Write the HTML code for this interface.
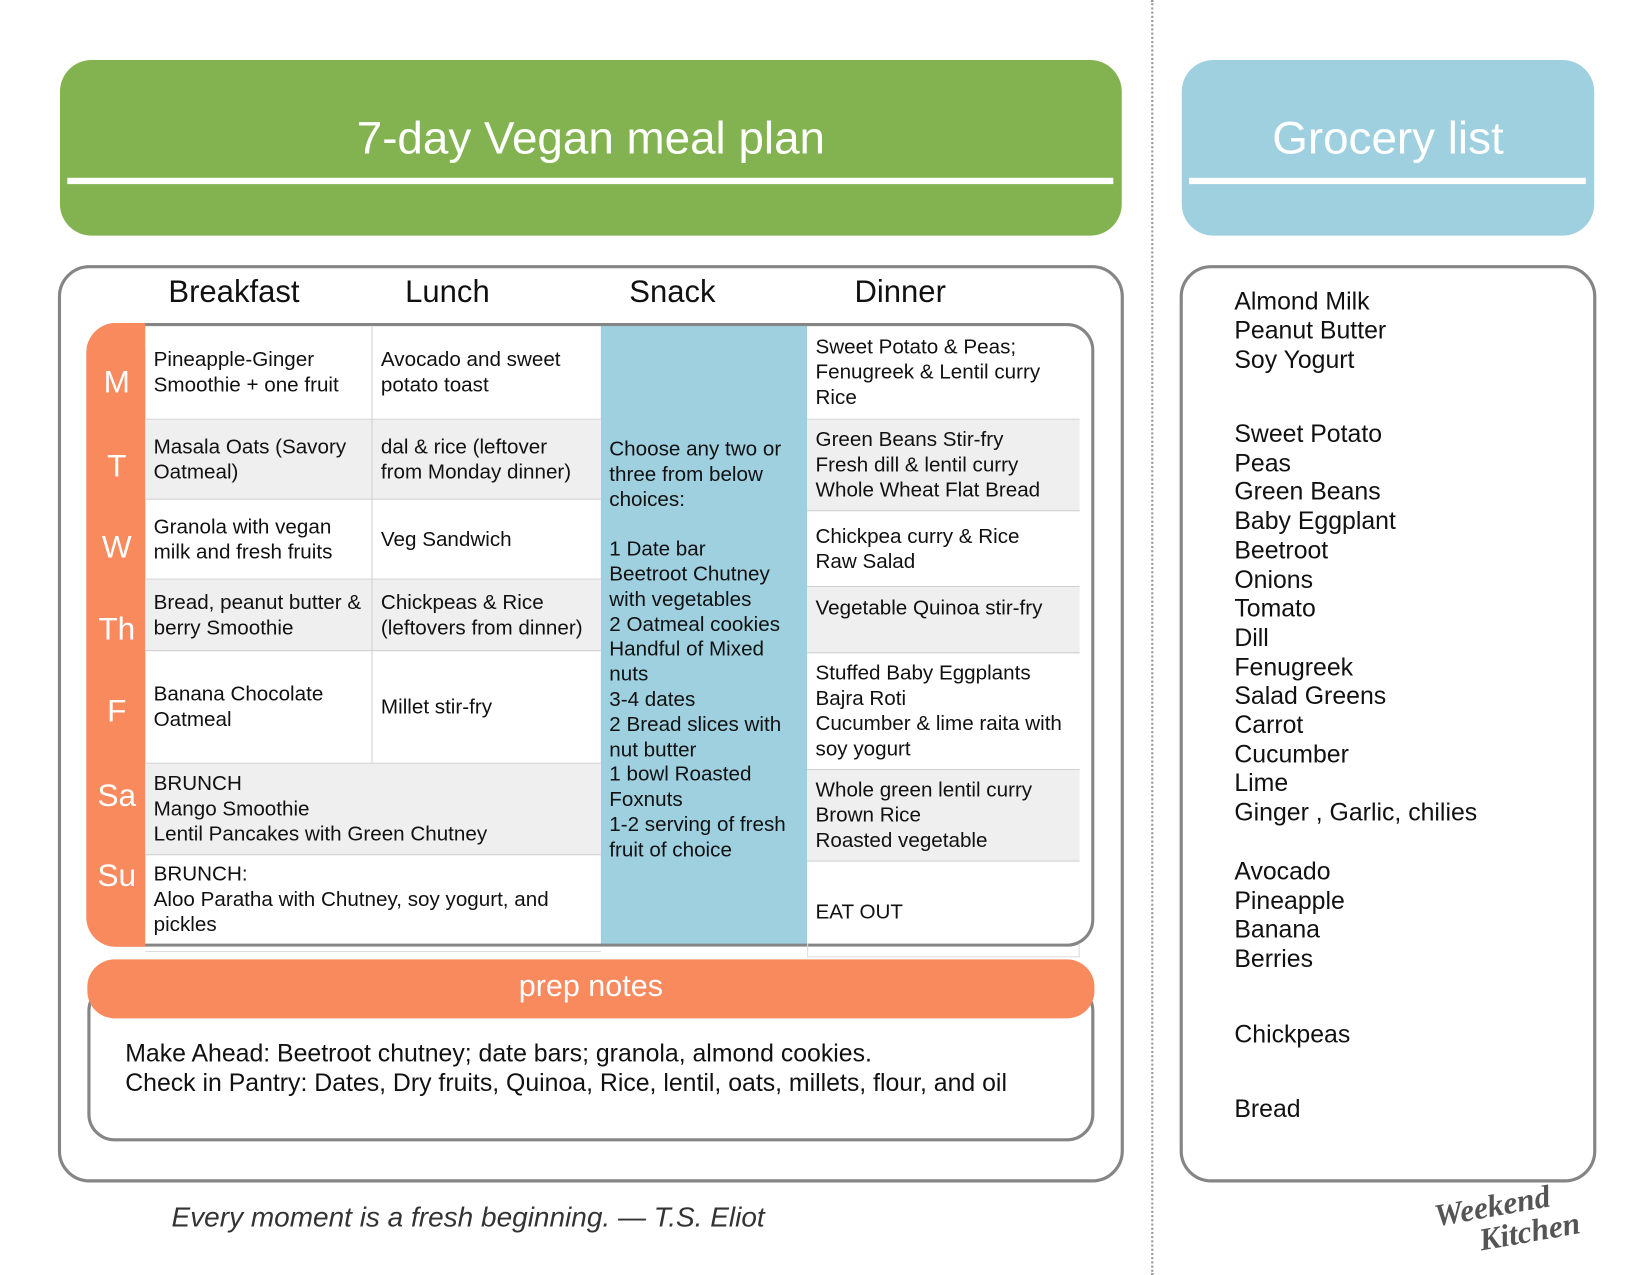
<!DOCTYPE html>
<html><head><meta charset="utf-8"><style>
html,body{margin:0;padding:0;background:#fff;width:1650px;height:1275px;overflow:hidden}
#w{position:absolute;left:0;top:0;width:1568px;height:1212px;transform-origin:0 0;transform:scale(1.0523,1.052);font-family:"Liberation Sans",Arial,sans-serif;color:#111}
.a{position:absolute}
.hdr{border-radius:30px;color:#fff;font-size:43.5px;text-align:center}
.line{position:absolute;height:6px;background:#fff}
.box{position:absolute;border:3px solid #858585;border-radius:30px;box-sizing:border-box}
.col{position:absolute;top:264px;font-size:29.5px;line-height:28px}
.c{position:absolute;font-size:19.6px;line-height:24px;box-sizing:border-box;padding-left:8px;display:flex;align-items:center;border-bottom:1px solid #d0d0d0;white-space:nowrap}
.g{background:#efefef}
.br{border-right:1px solid #d0d0d0}
.d{position:absolute;left:84px;width:54px;text-align:center;color:#fff;font-size:30px}
.gl{position:absolute;left:1173px;font-size:23.6px;line-height:28px}
</style></head><body><div id="w">
<div class="a hdr" style="left:57px;top:57px;width:1009px;height:167px;background:#82b350;"><div style="position:absolute;top:51px;width:100%">7-day Vegan meal plan</div></div>
<div class="line" style="left:64px;top:169px;width:994px"></div>
<div class="a hdr" style="left:1123px;top:57px;width:392px;height:167px;background:#9fd0e0;"><div style="position:absolute;top:51px;width:100%">Grocery list</div></div>
<div class="line" style="left:1130px;top:169px;width:377px"></div>
<div class="a" style="left:1094px;top:0;width:0;height:1212px;border-left:2px dotted #999"></div>

<div class="box" style="left:55px;top:252px;width:1013px;height:872px"></div>
<div class="col" style="left:160px">Breakfast</div>
<div class="col" style="left:385px">Lunch</div>
<div class="col" style="left:598px">Snack</div>
<div class="col" style="left:812px">Dinner</div>

<div class="a" style="left:571px;top:310px;width:196px;height:588px;background:#9fd0e0"></div>
<div class="box" style="left:84px;top:307px;width:956px;height:593px;border-radius:26px;border-left:none"></div>
<div class="a" style="left:82px;top:307px;width:56px;height:593px;background:#f98a5e;border-radius:28px"></div>
<div class="a" style="left:110px;top:307px;width:28px;height:593px;background:#f98a5e;"></div>

<div class="d" style="top:347px">M</div>
<div class="d" style="top:427px">T</div>
<div class="d" style="top:504px">W</div>
<div class="d" style="top:582px">Th</div>
<div class="d" style="top:660px">F</div>
<div class="d" style="top:740px">Sa</div>
<div class="d" style="top:816px">Su</div>

<div class="c br" style="left:138px;top:310px;width:216px;height:89px">Pineapple-Ginger<br>Smoothie + one fruit</div>
<div class="c" style="left:354px;top:310px;width:217px;height:89px">Avocado and sweet<br>potato toast</div>
<div class="c g br" style="left:138px;top:399px;width:216px;height:76px">Masala Oats (Savory<br>Oatmeal)</div>
<div class="c g" style="left:354px;top:399px;width:217px;height:76px">dal &amp; rice (leftover<br>from Monday dinner)</div>
<div class="c br" style="left:138px;top:475px;width:216px;height:76px">Granola with vegan<br>milk and fresh fruits</div>
<div class="c" style="left:354px;top:475px;width:217px;height:76px">Veg Sandwich</div>
<div class="c g br" style="left:138px;top:551px;width:216px;height:68px">Bread, peanut butter &amp;<br>berry Smoothie</div>
<div class="c g" style="left:354px;top:551px;width:217px;height:68px">Chickpeas &amp; Rice<br>(leftovers from dinner)</div>
<div class="c br" style="left:138px;top:619px;width:216px;height:107px">Banana Chocolate<br>Oatmeal</div>
<div class="c" style="left:354px;top:619px;width:217px;height:107px">Millet stir-fry</div>
<div class="c g" style="left:138px;top:726px;width:433px;height:87px">BRUNCH<br>Mango Smoothie<br>Lentil Pancakes with Green Chutney</div>
<div class="c" style="left:138px;top:813px;width:433px;height:84px;border-bottom:none">BRUNCH:<br>Aloo Paratha with Chutney, soy yogurt, and<br>pickles</div>

<div class="a" style="left:579px;top:416px;width:185px;font-size:19.6px;line-height:23.8px;white-space:nowrap">Choose any two or<br>three from below<br>choices:<br><br>1 Date bar<br>Beetroot Chutney<br>with vegetables<br>2 Oatmeal cookies<br>Handful of Mixed<br>nuts<br>3-4 dates<br>2 Bread slices with<br>nut butter<br>1 bowl Roasted<br>Foxnuts<br>1-2 serving of fresh<br>fruit of choice</div>

<div class="c" style="left:767px;top:310px;width:259px;height:89px">Sweet Potato &amp; Peas;<br>Fenugreek &amp; Lentil curry<br>Rice</div>
<div class="c g" style="left:767px;top:399px;width:259px;height:87px">Green Beans Stir-fry<br>Fresh dill &amp; lentil curry<br>Whole Wheat Flat Bread</div>
<div class="c" style="left:767px;top:486px;width:259px;height:72px">Chickpea curry &amp; Rice<br>Raw Salad</div>
<div class="c g" style="left:767px;top:558px;width:259px;height:63px;align-items:flex-start;padding-top:8px">Vegetable Quinoa stir-fry</div>
<div class="c" style="left:767px;top:621px;width:259px;height:111px">Stuffed Baby Eggplants<br>Bajra Roti<br>Cucumber &amp; lime raita with<br>soy yogurt</div>
<div class="c g" style="left:767px;top:732px;width:259px;height:87px">Whole green lentil curry<br>Brown Rice<br>Roasted vegetable</div>
<div class="c" style="left:767px;top:819px;width:259px;height:78px;border-bottom:none;padding-top:18px">EAT OUT</div>
<div class="a" style="left:138px;top:904px;width:433px;border-top:1px solid #ddd"></div>
<div class="a" style="left:767px;top:897px;width:259px;height:13px;border:1px solid #ddd;border-top:none;box-sizing:border-box"></div>

<div class="box" style="left:83px;top:935px;width:957px;height:150px;border-radius:26px"></div>
<div class="a" style="left:83px;top:912px;width:957px;height:56px;background:#f98a5e;border-radius:26px;color:#fff;font-size:29px;text-align:center;line-height:52px">prep notes</div>
<div class="a" style="left:119px;top:988px;font-size:23.6px;line-height:28px;white-space:nowrap">Make Ahead: Beetroot chutney; date bars; granola, almond cookies.<br>Check in Pantry: Dates, Dry fruits, Quinoa, Rice, lentil, oats, millets, flour, and oil</div>

<div class="a" style="left:163px;top:1142px;font-size:26.6px;font-style:italic;color:#333">Every moment is a fresh beginning. — T.S. Eliot</div>

<div class="box" style="left:1121px;top:252px;width:396px;height:872px"></div>
<div class="gl" style="top:273px">Almond Milk<br>Peanut Butter<br>Soy Yogurt</div>
<div class="gl" style="top:400px;line-height:27.7px">Sweet Potato<br>Peas<br>Green Beans<br>Baby Eggplant<br>Beetroot<br>Onions<br>Tomato<br>Dill<br>Fenugreek<br>Salad Greens<br>Carrot<br>Cucumber<br>Lime<br>Ginger , Garlic, chilies</div>
<div class="gl" style="top:816px;line-height:27.7px">Avocado<br>Pineapple<br>Banana<br>Berries</div>
<div class="gl" style="top:970px">Chickpeas</div>
<div class="gl" style="top:1041px">Bread</div>

<div class="a" style="left:1365px;top:1130px;transform:rotate(-10deg);font-family:'Liberation Serif',serif;font-style:italic;color:#555;font-size:30px;line-height:30px;font-weight:bold">Weekend<br><span style="padding-left:38px">Kitchen</span></div>
</div></body></html>
